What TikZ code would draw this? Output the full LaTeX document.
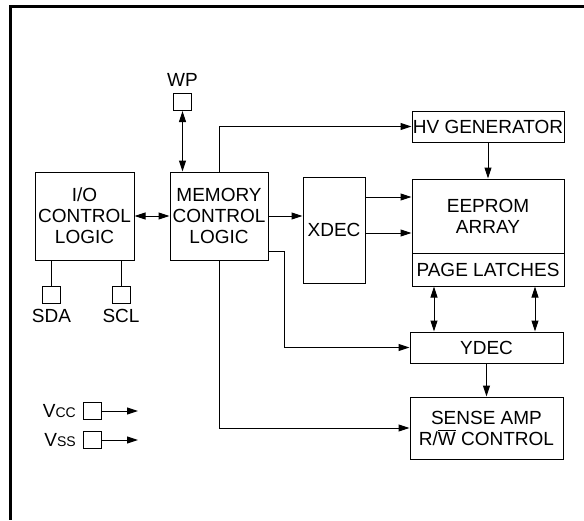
\documentclass[tikz,border=0pt]{standalone}
\usepackage{fontspec}
\setmainfont{Liberation Sans}
\usetikzlibrary{arrows.meta}

\begin{document}
\begin{tikzpicture}[x=1pt, y=-1pt,
    block/.style={draw, line width=1pt, inner sep=0pt, align=center, font=\fontsize{19}{21}\selectfont},
    padbox/.style={draw, line width=1pt, inner sep=0pt, minimum width=18pt, minimum height=17pt},
    padlabel/.style={inner sep=0pt, label distance=6pt, font=\fontsize{19}{21}\selectfont},
    wire/.style={line width=1pt},
    >={Triangle[length=11pt,width=7pt]}]

    \useasboundingbox (0,0) rectangle (584,520);

    % Frame
    \draw[line width=2.5pt] (584,6.5) -- (10.5,6.5) -- (10.5,520);

    % Blocks
    \node[block, minimum width=99pt, minimum height=88pt] (io) at (84.5,216) {I/O\\CONTROL\\LOGIC};
    \node[block, minimum width=98pt, minimum height=88pt] (mcl) at (219,216) {MEMORY\\CONTROL\\LOGIC};
    \node[block, minimum width=62pt, minimum height=106pt] (xdec) at (334,230) {XDEC};
    \node[block, minimum width=152pt, minimum height=31pt] (hv) at (488,126.5) {HV GENERATOR};
    \node[block, minimum width=152pt, minimum height=74pt] (array) at (488,216) {EEPROM\\ARRAY};
    \node[block, minimum width=152pt, minimum height=33pt] (latch) at (488,269.5) {PAGE LATCHES};
    \node[block, minimum width=153pt, minimum height=31pt] (ydec) at (486.5,347.5) {YDEC};
    \node[block, minimum width=153pt, minimum height=62pt] (sense) at (486.5,428) {SENSE AMP\\R/$\overline{\hbox{W}}$ CONTROL};

    % Pads
    \node[padbox, label={[padlabel]above:WP}] (wp) at (182.5,102) {};
    \node[padbox, label={[padlabel]below:SDA}] (sda) at (51.5,294.5) {};
    \node[padbox, label={[padlabel]below:SCL}] (scl) at (121,294.5) {};
    \node[padbox, label={[padlabel, label distance=7pt]left:V{\fontsize{14}{14}\selectfont CC}}] (vcc) at (92.5,411) {};
    \node[padbox, label={[padlabel, label distance=7pt]left:V{\fontsize{14}{14}\selectfont SS}}] (vss) at (92.5,440) {};

    % Connections
    \draw[wire, <->] (io) -- (mcl);
    \draw[wire, <->] (wp.south) -- (wp.south |- mcl.north);
    \draw[wire, ->] (mcl.north) |- (hv.west);
    \draw[wire, ->] (mcl.east) -- (mcl.east -| xdec.west);
    \draw[wire, ->] (xdec.east |- 0,197) -- (array.west |- 0,197);
    \draw[wire, ->] (xdec.east |- 0,233) -- (array.west |- 0,233);
    \draw[wire, ->] (hv) -- (array);
    \draw[wire, <->] (latch.south -| 434,0) -- (ydec.north -| 434,0);
    \draw[wire, <->] (latch.south -| 535,0) -- (ydec.north -| 535,0);
    \draw[wire, ->] (ydec) -- (sense);
    \draw[wire, ->] (mcl.east |- 0,251) -- (284,251) |- (ydec.west);
    \draw[wire, ->] (mcl.south) |- (sense.west);
    \draw[wire] (sda.north |- io.south) -- (sda.north);
    \draw[wire] (scl.north |- io.south) -- (scl.north);
    \draw[wire, ->] (vcc.east) -- ++(36,0);
    \draw[wire, ->] (vss.east) -- ++(36,0);

\end{tikzpicture}
\end{document}
